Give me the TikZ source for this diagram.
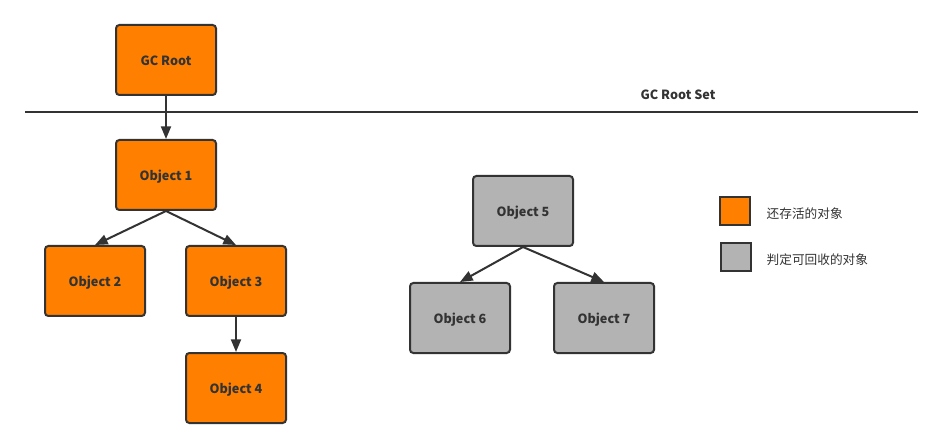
\documentclass[tikz,border=0pt]{standalone}
\usepackage{fontspec}
\usepackage{tikz}
\usetikzlibrary{arrows.meta}
\setmainfont{Noto Sans CJK SC}
\newfontfamily\cjk{Noto Sans CJK SC}
\definecolor{alivecolor}{RGB}{255, 128, 0}
\definecolor{deadcolor}{RGB}{179, 179, 179}
\definecolor{linecolor}{RGB}{51, 51, 51}

\begin{document}
\begin{tikzpicture}[x=0.75pt,y=-0.75pt,
    obj/.style={draw=linecolor,line width=1.5pt,rounded corners=2.5pt,
      minimum width=75pt,minimum height=52.5pt,text=linecolor,
      text height=8.5pt,text depth=0pt,
      font=\fontsize{9.5}{11}\selectfont\bfseries},
    alive/.style={obj,fill=alivecolor},
    dead/.style={obj,fill=deadcolor},
    legendbox/.style={draw=linecolor,line width=1.5pt,minimum width=23pt,minimum height=21.5pt},
    legendtext/.style={anchor=west,text=linecolor,text height=7.5pt,text depth=0pt,
      font=\cjk\fontsize{9.5}{11}\selectfont},
    ref/.style={draw=linecolor,line width=1.5pt,-{Triangle[length=9.5pt,width=7.5pt]}}]
        \useasboundingbox (0,0) rectangle (944,448);
        % root set boundary
        \coordinate (setL) at (25,112);
        \coordinate (setR) at (918,112);
        \draw[linecolor,line width=1.5pt] (setL) -- (setR);
        \node[text=linecolor,text height=7pt,text depth=0pt,
          font=\fontsize{9.5}{11}\selectfont\bfseries] (setlabel) at (678,95) {GC Root Set};
        % reachable objects
        \node[alive] (root) at (166,60) {GC Root};
        \node[alive] (obj1) at (166,175) {Object 1};
        \node[alive] (obj2) at (95,281) {Object 2};
        \node[alive] (obj3) at (236,281) {Object 3};
        \node[alive] (obj4) at (236,388) {Object 4};
        % unreachable objects
        \node[dead] (obj5) at (523,211) {Object 5};
        \node[dead] (obj6) at (460,318) {Object 6};
        \node[dead] (obj7) at (604,318) {Object 7};
        \draw[ref] (root) -- (obj1);
        \draw[ref] (obj1.south) -- (obj2.north);
        \draw[ref] (obj1.south) -- (obj3.north);
        \draw[ref] (obj3) -- (obj4);
        \draw[ref] (obj5.south) -- (obj6.north);
        \draw[ref] (obj5.south) -- (obj7.north);
        % legend
        \node[legendbox,fill=alivecolor] (keyalive) at (735,211) {};
        \node[legendtext] (keyalivetext) at (762,214) {还存活的对象};
        \node[legendbox,fill=deadcolor] (keydead) at (736,257) {};
        \node[legendtext] (keydeadtext) at (762,260) {判定可回收的对象};
    \end{tikzpicture}
\end{document}
